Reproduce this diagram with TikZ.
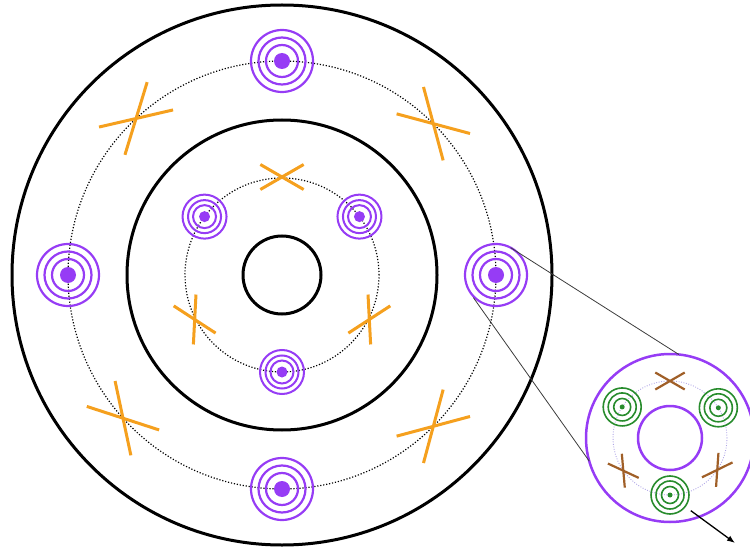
\documentclass[tikz,border=0pt]{standalone}
\usetikzlibrary{calc,arrows.meta}
\definecolor{purp}{RGB}{150,60,245}
\definecolor{orng}{RGB}{245,160,30}
\definecolor{grn}{RGB}{40,140,45}
\definecolor{brwn}{RGB}{160,95,40}
\definecolor{lav}{RGB}{175,165,230}
\definecolor{conn}{RGB}{60,60,60}
\tikzset{
  bigcirc/.style={draw=black,line width=3pt},
  dotcirc/.style={draw=black,line width=1.2pt,dash pattern=on 1.2pt off 1.8pt},
  lavdot/.style={draw=lav,line width=0.9pt,dash pattern=on 0.9pt off 1.6pt},
  ringbig/.style={draw=purp,line width=2.2pt},
  ringmid/.style={draw=purp,line width=2pt},
  ringgrn/.style={draw=grn,line width=1.6pt},
  xorange/.style={draw=orng,line width=3pt},
  xbrown/.style={draw=brwn,line width=2.2pt},
  insetcirc/.style={draw=purp,line width=2.5pt},
  connline/.style={draw=conn,line width=0.8pt},
  arrowline/.style={draw=black,line width=1.3pt,-{Latex[length=8pt,width=6pt]}}
}
\begin{document}
\begin{tikzpicture}[x=1pt,y=1pt]
\useasboundingbox (0,0) rectangle (750,550);
\coordinate (C) at (282,275);
\coordinate (I) at (670,112);

% main circles
\draw[bigcirc] (C) circle[radius=270];
\draw[bigcirc] (C) circle[radius=155];
\draw[bigcirc] (C) circle[radius=39];
\draw[dotcirc] (C) circle[radius=214];
\draw[dotcirc] (C) circle[radius=97];

% outer targets
\foreach \a/\n in {90/ot, 0/orr, 180/ol, 270/ob}{
  \coordinate (\n) at ($(C)+(\a:214)$);
  \draw[ringbig] (\n) circle[radius=31] (\n) circle[radius=23.5] (\n) circle[radius=16];
  \fill[purp] (\n) circle[radius=8];
}
% inner targets
\foreach \a/\n in {143/itl, 37/itr, 270/ib}{
  \coordinate (\n) at ($(C)+(\a:97)$);
  \draw[ringmid] (\n) circle[radius=22] (\n) circle[radius=16.5] (\n) circle[radius=11.5];
  \fill[purp] (\n) circle[radius=5.5];
}
% outer X marks
\foreach \a/\n in {45/oxa, 133/oxb, 222/oxc, 315/oxd}{
  \coordinate (\n) at ($(C)+(\a:214)$);
  \draw[xorange] ($(\n)+(\a+120:38)$) -- ($(\n)+(\a-60:38)$)
                 ($(\n)+(\a+60:38)$) -- ($(\n)+(\a+240:38)$);
}
% inner X marks
\foreach \a/\n in {90/ixa, 207/ixb, 333/ixc}{
  \coordinate (\n) at ($(C)+(\a:98)$);
  \draw[xorange] ($(\n)+(\a+120:25)$) -- ($(\n)+(\a-60:25)$)
                 ($(\n)+(\a+60:25)$) -- ($(\n)+(\a+240:25)$);
}

% inset
\draw[insetcirc] (I) circle[radius=84];
\draw[insetcirc] (I) circle[radius=32];
\draw[lavdot] (I) circle[radius=57];
\foreach \a/\n in {147/gtl, 32/gtr, 270/gb}{
  \coordinate (\n) at ($(I)+(\a:57)$);
  \draw[ringgrn] (\n) circle[radius=19] (\n) circle[radius=14] (\n) circle[radius=8.5];
  \fill[grn] (\n) circle[radius=2.5];
}
\foreach \a/\n in {90/bxa, 215/bxb, 326/bxc}{
  \coordinate (\n) at ($(I)+(\a:57)$);
  \draw[xbrown] ($(\n)+(\a+120:17)$) -- ($(\n)+(\a-60:17)$)
                ($(\n)+(\a+60:17)$) -- ($(\n)+(\a+240:17)$);
}

% connectors from zoomed target to inset
\coordinate (pa) at ($(orr)+(62:31)$);
\coordinate (pb) at ($(orr)+(225:32)$);
\coordinate (qa) at ($(I)+(84:84)$);
\coordinate (qb) at ($(I)+(196:84)$);
\draw[connline] (pa) -- (qa);
\draw[connline] (pb) -- (qb);

% arrow
\coordinate (as) at ($(gb)+(-37:26)$);
\coordinate (ae) at (735,7);
\draw[arrowline] (as) -- (ae);
\end{tikzpicture}
\end{document}
